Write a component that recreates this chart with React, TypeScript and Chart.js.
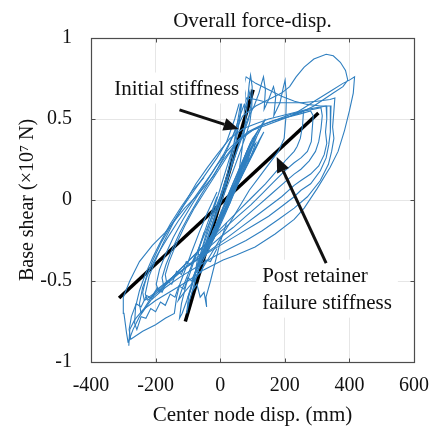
import React, { useEffect, useRef } from "react";
import { Chart, registerables } from "chart.js";

Chart.register(...registerables);

const FONT = "'Liberation Serif', 'Times New Roman', serif";
const BLUE = "#2f7fc0";

const xTickValues = [-400, -200, 0, 200, 400, 600];
const yTickValues = [-1, -0.5, 0, 0.5, 1];

// hysteresis cycles: [disp (mm), base shear (x1e7 N)]
const coreCycle1 = [
  [20, 0], [45, 0.1], [70, 0.2], [90, 0.28], [80, 0.25], [55, 0.14], [30, 0.03], [5, -0.07], [-15, -0.16],
  [-25, -0.2], [-15, -0.17], [5, -0.09], [25, -0.02],
];
const coreCycle2 = [
  [25, -0.02], [55, 0.1], [85, 0.22], [110, 0.32], [120, 0.36], [105, 0.31], [75, 0.19], [45, 0.06],
  [15, -0.06], [-15, -0.18], [-40, -0.28], [-50, -0.32], [-38, -0.28], [-10, -0.17], [20, -0.05],
];
const coreCycle3 = [
  [20, -0.05], [50, 0.08], [80, 0.2], [105, 0.3], [125, 0.38], [135, 0.42], [118, 0.36], [90, 0.24],
  [60, 0.12], [30, 0.0], [0, -0.13], [-30, -0.25], [-55, -0.35], [-70, -0.41], [-58, -0.37], [-30, -0.26],
  [0, -0.14], [30, -0.02],
];
const coreCycle4 = [
  [30, -0.02], [50, 0.09], [65, 0.14], [78, 0.22], [95, 0.27], [110, 0.35], [100, 0.33], [85, 0.25],
  [70, 0.2], [50, 0.1], [35, 0.05], [15, -0.05], [0, -0.1], [-20, -0.2], [-35, -0.24], [-45, -0.3],
  [-35, -0.28], [-20, -0.2], [0, -0.12], [15, -0.06], [35, 0.03], [55, 0.12], [75, 0.2],
];
const coreCycle5 = [
  [75, 0.2], [95, 0.3], [115, 0.4], [130, 0.47], [140, 0.5], [128, 0.45], [105, 0.36], [80, 0.26],
  [55, 0.14], [30, 0.02], [5, -0.1], [-20, -0.21], [-45, -0.32], [-65, -0.4], [-80, -0.46], [-70, -0.44],
  [-45, -0.34], [-15, -0.22], [15, -0.09], [45, 0.05],
];
const coreCycle6 = [
  [45, 0.05], [70, 0.18], [92, 0.3], [112, 0.41], [100, 0.38], [78, 0.28], [55, 0.17], [35, 0.08],
  [10, -0.04], [-12, -0.15], [-32, -0.26], [-48, -0.35], [-38, -0.32], [-15, -0.21], [10, -0.08],
  [35, 0.04], [60, 0.16], [85, 0.28], [100, 0.34], [88, 0.3], [62, 0.18], [40, 0.08], [15, -0.03],
];
const coreCycle7 = [
  [15, -0.03], [40, 0.1], [62, 0.2], [85, 0.3], [105, 0.38], [120, 0.44], [108, 0.4], [85, 0.31],
  [60, 0.2], [35, 0.08], [10, -0.04], [-15, -0.16], [-40, -0.27], [-60, -0.36], [-50, -0.33],
  [-25, -0.22], [0, -0.1], [25, 0.02], [50, 0.12],
];
const coreCycle8 = [
  [50, 0.12], [70, 0.22], [88, 0.32], [95, 0.36], [82, 0.3], [60, 0.18], [38, 0.06], [15, -0.06],
  [-8, -0.17], [-28, -0.26], [-20, -0.24], [0, -0.14], [22, -0.03], [45, 0.08],
];
const spikeCycle1 = [
  [45, 0.05], [60, 0.2], [72, 0.38], [80, 0.52], [86, 0.64], [90, 0.72], [94, 0.77], [99, 0.7], [98, 0.58],
  [92, 0.48], [80, 0.4], [62, 0.3], [40, 0.18], [15, 0.05], [-10, -0.08], [-35, -0.22], [-60, -0.38],
  [-80, -0.52], [-95, -0.62], [-104, -0.7], [-98, -0.6], [-85, -0.5], [-65, -0.38], [-40, -0.24],
  [-15, -0.1], [10, 0.03],
];
const spikeCycle2 = [
  [10, 0.03], [30, 0.18], [48, 0.35], [60, 0.5], [68, 0.62], [73, 0.7], [78, 0.66], [75, 0.55], [85, 0.62],
  [92, 0.67], [96, 0.6], [88, 0.5], [70, 0.4], [48, 0.28], [25, 0.15], [0, 0.02], [-25, -0.12], [-50, -0.27],
  [-72, -0.42], [-90, -0.55], [-100, -0.6], [-92, -0.56], [-75, -0.44], [-50, -0.3], [-25, -0.15], [0, 0.0],
];
const spikeCycle3 = [
  [0, 0.0], [30, 0.18], [60, 0.36], [85, 0.5], [105, 0.58], [120, 0.66], [128, 0.72], [134, 0.76],
  [140, 0.68], [136, 0.56], [150, 0.62], [165, 0.7], [172, 0.64], [166, 0.52], [185, 0.6], [196, 0.7],
  [201, 0.74], [205, 0.64], [203, 0.5], [198, 0.38], [180, 0.3], [150, 0.22], [120, 0.14], [90, 0.06],
  [60, -0.04], [30, -0.14], [0, -0.24], [-30, -0.34], [-60, -0.44], [-90, -0.52], [-115, -0.58],
  [-130, -0.62], [-120, -0.56], [-100, -0.46], [-75, -0.34], [-50, -0.22], [-25, -0.1], [0, 0.02],
];
const spikeCycle4 = [
  [0, 0.02], [22, 0.16], [40, 0.32], [52, 0.46], [60, 0.56], [66, 0.62], [62, 0.52], [55, 0.44], [40, 0.33],
  [20, 0.2], [0, 0.07], [-22, -0.07], [-45, -0.22], [-68, -0.38], [-88, -0.52], [-105, -0.63], [-118, -0.7],
  [-126, -0.73], [-120, -0.64], [-105, -0.52], [-85, -0.4], [-60, -0.26], [-35, -0.12], [-10, 0.02],
];
const fanCycle1 = [
  [-165, -0.52], [-170, -0.46], [-158, -0.38], [-138, -0.28], [-110, -0.16], [-80, -0.05], [-45, 0.06],
  [-10, 0.17], [25, 0.28], [60, 0.37], [100, 0.43], [140, 0.47], [180, 0.5], [220, 0.53], [258, 0.55],
  [255, 0.46], [248, 0.38], [238, 0.33], [229, 0.3], [205, 0.25], [175, 0.18], [140, 0.1], [100, 0.02],
  [60, -0.06], [20, -0.14], [-20, -0.22], [-60, -0.3], [-100, -0.38], [-140, -0.46], [-175, -0.53],
];
const fanCycle2 = [
  [-175, -0.53], [-180, -0.48], [-168, -0.4], [-150, -0.31], [-125, -0.2], [-95, -0.09], [-60, 0.03],
  [-25, 0.14], [10, 0.25], [45, 0.34], [85, 0.42], [125, 0.46], [165, 0.49], [205, 0.51], [245, 0.53],
  [280, 0.55], [288, 0.52], [285, 0.44], [282, 0.36], [270, 0.3], [250, 0.26], [229, 0.23], [200, 0.18],
  [165, 0.11], [130, 0.04], [95, -0.03], [55, -0.1], [15, -0.17], [-25, -0.24], [-65, -0.31], [-105, -0.39],
  [-145, -0.47], [-190, -0.57],
];
const fanCycle3 = [
  [-190, -0.57], [-198, -0.52], [-188, -0.43], [-170, -0.34], [-145, -0.23], [-115, -0.12], [-85, -0.02],
  [-50, 0.09], [-15, 0.2], [20, 0.3], [60, 0.38], [100, 0.43], [140, 0.46], [180, 0.49], [220, 0.52],
  [260, 0.55], [290, 0.56], [312, 0.57], [316, 0.52], [312, 0.44], [305, 0.36], [295, 0.3], [275, 0.24],
  [250, 0.19], [229, 0.16], [200, 0.11], [160, 0.04], [120, -0.03], [80, -0.1], [40, -0.17], [0, -0.23],
  [-40, -0.3], [-80, -0.37], [-120, -0.44], [-160, -0.51], [-200, -0.58], [-225, -0.62],
];
const fanCycle4 = [
  [-225, -0.62], [-232, -0.58], [-220, -0.47], [-200, -0.37], [-175, -0.26], [-145, -0.14], [-110, -0.02],
  [-75, 0.1], [-40, 0.2], [-10, 0.28], [30, 0.38], [70, 0.44], [110, 0.47], [150, 0.5], [190, 0.52],
  [230, 0.54], [270, 0.56], [300, 0.57], [328, 0.58], [330, 0.5], [326, 0.42], [330, 0.35], [322, 0.28],
  [305, 0.21], [280, 0.16], [250, 0.12], [229, 0.09], [190, 0.02], [150, -0.04], [110, -0.1], [70, -0.16],
  [30, -0.22], [-10, -0.28], [-60, -0.35], [-110, -0.42], [-160, -0.5], [-200, -0.57], [-235, -0.62],
];
const fanCycle5 = [
  [-235, -0.62], [-240, -0.57], [-228, -0.47], [-208, -0.37], [-182, -0.26], [-150, -0.15], [-115, -0.04],
  [-80, 0.06], [-45, 0.16], [-10, 0.26], [20, 0.36], [45, 0.5], [62, 0.62], [75, 0.72], [80, 0.76],
  [110, 0.72], [150, 0.68], [190, 0.64], [230, 0.61], [270, 0.59], [310, 0.58], [343, 0.58], [340, 0.5],
  [342, 0.42], [336, 0.34], [328, 0.26], [310, 0.18], [280, 0.1], [250, 0.06], [229, 0.02], [190, -0.04],
  [150, -0.1], [100, -0.16], [50, -0.22], [0, -0.28], [-50, -0.34], [-100, -0.41], [-150, -0.48],
  [-200, -0.56], [-245, -0.7],
];
const fanCycle6 = [
  [-245, -0.7], [-250, -0.64], [-240, -0.54], [-220, -0.44], [-195, -0.34], [-165, -0.24], [-130, -0.13],
  [-95, -0.03], [-60, 0.07], [-25, 0.17], [10, 0.28], [40, 0.4], [65, 0.54], [82, 0.63], [110, 0.62],
  [150, 0.6], [200, 0.6], [250, 0.6], [300, 0.61], [340, 0.62], [355, 0.63], [352, 0.55], [348, 0.45],
  [352, 0.38], [345, 0.3], [335, 0.22], [310, 0.12], [270, 0.02], [229, -0.05], [180, -0.12], [130, -0.19],
  [80, -0.25], [30, -0.3], [-20, -0.35], [-70, -0.41], [-120, -0.47], [-170, -0.54], [-215, -0.62],
  [-250, -0.72], [-270, -0.8], [-285, -0.88],
];
const bubbleCycle = [
  [-285, -0.88], [-290, -0.82], [-298, -0.7], [-300, -0.6], [-280, -0.5], [-250, -0.38], [-210, -0.28],
  [-170, -0.2], [-110, -0.05], [-70, 0.03], [-20, 0.15], [10, 0.26], [40, 0.4], [70, 0.52], [110, 0.58],
  [150, 0.62], [190, 0.66], [215, 0.7], [235, 0.76], [260, 0.82], [290, 0.87], [328, 0.9], [350, 0.89],
  [372, 0.85], [388, 0.8], [395, 0.74], [380, 0.7], [350, 0.66], [320, 0.62], [290, 0.58], [250, 0.54],
  [220, 0.52], [260, 0.57], [300, 0.62], [340, 0.67], [380, 0.72], [400, 0.74], [416, 0.76], [412, 0.66],
  [400, 0.55], [385, 0.43], [365, 0.3], [340, 0.2], [300, 0.07], [260, -0.05], [229, -0.12], [170, -0.21],
  [108, -0.29], [50, -0.34], [9, -0.37], [-50, -0.43], [-100, -0.5], [-150, -0.56], [-200, -0.62],
  [-240, -0.68], [-265, -0.74], [-280, -0.8], [-283, -0.9],
];
const lowerLeftCycle1 = [
  [-40, -0.28], [-60, -0.34], [-75, -0.33], [-90, -0.4], [-105, -0.38], [-120, -0.46], [-135, -0.44],
  [-150, -0.52], [-165, -0.5], [-180, -0.57], [-195, -0.54], [-210, -0.61], [-228, -0.59], [-245, -0.66],
  [-260, -0.64], [-275, -0.72], [-282, -0.8], [-277, -0.86], [-240, -0.81], [-200, -0.77], [-170, -0.73],
  [-142, -0.7], [-135, -0.6], [-125, -0.52], [-110, -0.44], [-90, -0.33], [-65, -0.2], [-40, -0.08], [-10, 0.05],
];
const lowerLeftCycle2 = [
  [-10, -0.3], [-30, -0.38], [-45, -0.37], [-60, -0.45], [-75, -0.43], [-88, -0.5], [-100, -0.48],
  [-112, -0.55], [-128, -0.53], [-140, -0.6], [-155, -0.58], [-170, -0.65], [-185, -0.63], [-200, -0.69],
  [-215, -0.67], [-230, -0.73], [-245, -0.72], [-258, -0.8], [-265, -0.76], [-262, -0.66], [-250, -0.56],
  [-232, -0.46], [-210, -0.36], [-185, -0.26], [-155, -0.15], [-120, -0.04], [-85, 0.06], [-50, 0.14],
];
const lowerLeftCycle3 = [
  [-50, -0.2], [-65, -0.3], [-75, -0.42], [-82, -0.55], [-72, -0.52], [-62, -0.6], [-50, -0.57],
  [-42, -0.66], [-44, -0.6], [-30, -0.5], [-15, -0.38], [0, -0.26], [20, -0.14],
];

const cycles = [
  coreCycle1, coreCycle2, coreCycle3, coreCycle4, coreCycle5, coreCycle6, coreCycle7, coreCycle8,
  spikeCycle1, spikeCycle2, spikeCycle3, spikeCycle4,
  fanCycle1, fanCycle2, fanCycle3, fanCycle4, fanCycle5, fanCycle6, bubbleCycle,
  lowerLeftCycle1, lowerLeftCycle2, lowerLeftCycle3,
];

// stiffness lines
const initialStiffnessLine = [[-108, -0.75], [102, 0.68]];
const postRetainerLine = [[-313, -0.605], [304, 0.537]];

// annotations (data coordinates)
const initialLabel = { lines: ["Initial stiffness"], at: [-328, 0.685] };
const initialArrow = { from: [-126, 0.556], to: [57, 0.438] };
const postLabel = { lines: ["Post retainer", "failure stiffness"], at: [130, -0.47] };
const postArrow = { from: [328, -0.39], to: [175, 0.265] };

const toXY = (arr: number[][]) => arr.map(([x, y]) => ({ x, y }));

const overlayPlugin = {
  id: "overlay",
  afterDatasetsDraw(chart: any) {
    const { ctx, chartArea } = chart;
    const xs = chart.scales.x;
    const ys = chart.scales.y;
    const px = (v: number) => xs.getPixelForValue(v);
    const py = (v: number) => ys.getPixelForValue(v);
    ctx.save();

    const fontSize = 21;
    const lineGap = 27;
    ctx.font = `${fontSize}px ${FONT}`;
    ctx.textBaseline = "middle";
    ctx.textAlign = "left";
    const drawLabel = (label: { lines: string[]; at: number[] }) => {
      const x0 = px(label.at[0]);
      const y0 = py(label.at[1]);
      let w = 0;
      label.lines.forEach((t) => (w = Math.max(w, ctx.measureText(t).width)));
      const h = (label.lines.length - 1) * lineGap + fontSize;
      ctx.fillStyle = "#ffffff";
      ctx.fillRect(x0 - 6, y0 - fontSize / 2 - 6, w + 12, h + 10);
      ctx.fillStyle = "#111111";
      label.lines.forEach((t, i) => ctx.fillText(t, x0, y0 + i * lineGap));
    };
    drawLabel(initialLabel);
    drawLabel(postLabel);

    const drawArrow = (a: { from: number[]; to: number[] }) => {
      const x1 = px(a.from[0]);
      const y1 = py(a.from[1]);
      const x2 = px(a.to[0]);
      const y2 = py(a.to[1]);
      const ang = Math.atan2(y2 - y1, x2 - x1);
      const headLen = 15;
      const headHalf = 6.5;
      const bx = x2 - headLen * Math.cos(ang);
      const by = y2 - headLen * Math.sin(ang);
      ctx.strokeStyle = "#111111";
      ctx.lineWidth = 3;
      ctx.beginPath();
      ctx.moveTo(x1, y1);
      ctx.lineTo(bx, by);
      ctx.stroke();
      ctx.fillStyle = "#111111";
      ctx.beginPath();
      ctx.moveTo(x2, y2);
      ctx.lineTo(bx + headHalf * Math.sin(ang), by - headHalf * Math.cos(ang));
      ctx.lineTo(bx - headHalf * Math.sin(ang), by + headHalf * Math.cos(ang));
      ctx.closePath();
      ctx.fill();
    };
    drawArrow(initialArrow);
    drawArrow(postArrow);

    // frame with small inward ticks
    const L = Math.round(chartArea.left) + 0.5;
    const T = Math.round(chartArea.top) + 0.5;
    const R = Math.round(chartArea.right) + 0.5;
    const B = Math.round(chartArea.bottom) + 0.5;
    ctx.strokeStyle = "#4d4d4d";
    ctx.lineWidth = 1.2;
    ctx.strokeRect(L, T, R - L, B - T);
    ctx.lineWidth = 1;
    ctx.beginPath();
    xTickValues.forEach((v) => {
      const x = Math.round(px(v)) + 0.5;
      ctx.moveTo(x, B);
      ctx.lineTo(x, B - 4);
      ctx.moveTo(x, T);
      ctx.lineTo(x, T + 4);
    });
    yTickValues.forEach((v) => {
      const y = Math.round(py(v)) + 0.5;
      ctx.moveTo(L, y);
      ctx.lineTo(L + 4, y);
      ctx.moveTo(R, y);
      ctx.lineTo(R - 4, y);
    });
    ctx.stroke();

    // title
    ctx.fillStyle = "#111111";
    ctx.font = `21px ${FONT}`;
    ctx.textAlign = "center";
    ctx.textBaseline = "middle";
    ctx.fillText("Overall force-disp.", (chartArea.left + chartArea.right) / 2, 21);
    ctx.restore();
  },
};

export default function App() {
  const canvasRef = useRef<HTMLCanvasElement | null>(null);

  useEffect(() => {
    if (!canvasRef.current) return;
    const datasets: any[] = cycles.map((c) => ({
      data: toXY(c),
      borderColor: BLUE,
      borderWidth: 1.1,
      pointRadius: 0,
      showLine: true,
      fill: false,
      tension: 0,
    }));
    [initialStiffnessLine, postRetainerLine].forEach((l) =>
      datasets.push({
        data: toXY(l),
        borderColor: "#000000",
        borderWidth: 3.5,
        pointRadius: 0,
        showLine: true,
        fill: false,
        borderCapStyle: "butt",
      })
    );

    const chart = new Chart(canvasRef.current, {
      type: "scatter",
      data: { datasets },
      options: {
        animation: false,
        responsive: false,
        maintainAspectRatio: false,
        layout: { padding: { top: 38, right: 18, left: 0, bottom: 0 } },
        plugins: {
          legend: { display: false },
          tooltip: { enabled: false },
          title: { display: false },
        },
        scales: {
          x: {
            type: "linear",
            min: -400,
            max: 600,
            afterBuildTicks: (s: any) => {
              s.ticks = xTickValues.map((v) => ({ value: v }));
            },
            afterFit: (s: any) => {
              s.height = 66;
            },
            grid: { color: "#e6e6e6", drawTicks: false, lineWidth: 1 },
            border: { display: false },
            ticks: {
              color: "#111111",
              font: { family: FONT, size: 20 },
              padding: 12,
              maxRotation: 0,
              callback: (v: any) => String(v),
            },
            title: {
              display: true,
              text: "Center node disp. (mm)",
              color: "#111111",
              font: { family: FONT, size: 21 },
              padding: { top: 0, bottom: 0 },
            },
          },
          y: {
            type: "linear",
            min: -1,
            max: 1,
            afterBuildTicks: (s: any) => {
              s.ticks = yTickValues.map((v) => ({ value: v }));
            },
            afterFit: (s: any) => {
              s.width = 91;
            },
            grid: { color: "#e6e6e6", drawTicks: false, lineWidth: 1 },
            border: { display: false },
            ticks: {
              color: "#111111",
              font: { family: FONT, size: 20 },
              padding: 19,
              callback: (v: any) => String(v),
            },
            title: {
              display: true,
              text: "Base shear (×10⁷ N)",
              color: "#111111",
              font: { family: FONT, size: 20 },
              padding: { top: 16, bottom: 0 },
            },
          },
        },
      },
      plugins: [overlayPlugin],
    });
    return () => chart.destroy();
  }, []);

  return (
    <div style={{ position: "fixed", left: 0, top: 0, width: 441, height: 428, background: "#ffffff" }}>
      <canvas ref={canvasRef} width={441} height={428} style={{ width: 441, height: 428, display: "block" }} />
    </div>
  );
}
